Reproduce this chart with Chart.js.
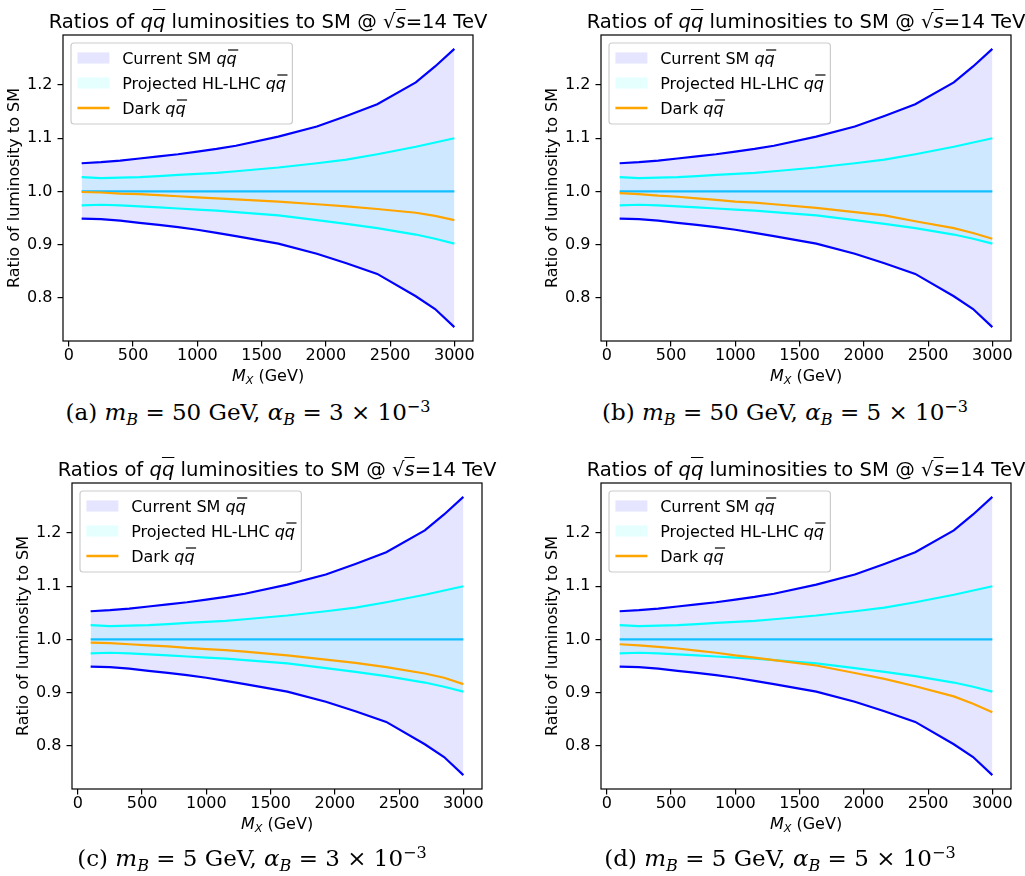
<!DOCTYPE html>
<html>
<head>
<meta charset="utf-8">
<script src="https://cdn.jsdelivr.net/npm/chart.js@4.4.0/dist/chart.umd.min.js"></script>
<style>
body { margin:0; background:#fff; width:1025px; height:876px; position:relative; overflow:hidden; font-family:'DejaVu Sans'; color:#000; }
.panel { position:absolute; width:480px; height:400px; }
.panel canvas { position:absolute; left:0; top:0; }
.ttl { position:absolute; left:18px; top:12px; width:500px; text-align:center; font-size:19.6px; line-height:1; white-space:nowrap; }
.xl { position:absolute; left:168px; top:368px; width:200px; text-align:center; font-size:16px; line-height:1; white-space:nowrap; }
.xl sub { font-size:0.7em; vertical-align:-0.3em; line-height:0; }
.ol { text-decoration:overline; }
.cap { position:absolute; width:500px; text-align:center; font-family:'DejaVu Serif'; font-size:23px; line-height:1; white-space:nowrap; }
.cap sub { font-size:0.7em; vertical-align:-0.3em; line-height:0; }
.cap sup { font-size:0.7em; vertical-align:0.5em; line-height:0; }
</style>
</head>
<body>
<div class="panel" style="left:0px;top:0px"><canvas id="ca" width="480" height="371"></canvas>
  <div class="ttl">Ratios of <i>q</i><i class="ol">q</i> luminosities to SM @ √<i class="ol">s</i>=14 TeV</div>
  <div class="xl"><i>M</i><sub><i>X</i></sub> (GeV)</div></div>
<div class="panel" style="left:538px;top:0px"><canvas id="cb" width="480" height="371"></canvas>
  <div class="ttl">Ratios of <i>q</i><i class="ol">q</i> luminosities to SM @ √<i class="ol">s</i>=14 TeV</div>
  <div class="xl"><i>M</i><sub><i>X</i></sub> (GeV)</div></div>
<div class="panel" style="left:9px;top:448px"><canvas id="cc" width="480" height="371"></canvas>
  <div class="ttl">Ratios of <i>q</i><i class="ol">q</i> luminosities to SM @ √<i class="ol">s</i>=14 TeV</div>
  <div class="xl"><i>M</i><sub><i>X</i></sub> (GeV)</div></div>
<div class="panel" style="left:538px;top:448px"><canvas id="cd" width="480" height="371"></canvas>
  <div class="ttl">Ratios of <i>q</i><i class="ol">q</i> luminosities to SM @ √<i class="ol">s</i>=14 TeV</div>
  <div class="xl"><i>M</i><sub><i>X</i></sub> (GeV)</div></div>

<div class="cap" style="left:-2px;top:401px">(a) <i>m</i><sub><i>B</i></sub> = 50 GeV, <i>α</i><sub><i>B</i></sub> = 3 × 10<sup>−3</sup></div>
<div class="cap" style="left:535px;top:401px">(b) <i>m</i><sub><i>B</i></sub> = 50 GeV, <i>α</i><sub><i>B</i></sub> = 5 × 10<sup>−3</sup></div>
<div class="cap" style="left:2px;top:847px">(c) <i>m</i><sub><i>B</i></sub> = 5 GeV, <i>α</i><sub><i>B</i></sub> = 3 × 10<sup>−3</sup></div>
<div class="cap" style="left:530px;top:847px">(d) <i>m</i><sub><i>B</i></sub> = 5 GeV, <i>α</i><sub><i>B</i></sub> = 5 × 10<sup>−3</sup></div>

<script>
// mass points (GeV)
const masses = [100, 250, 400, 550, 700, 850, 1000, 1150, 1300, 1630, 1930, 2160, 2400, 2700, 2850, 3000];

// current SM band
const smUpper = [1.053, 1.055, 1.058, 1.062, 1.066, 1.070, 1.075, 1.080, 1.086, 1.103, 1.122, 1.142, 1.164, 1.205, 1.235, 1.268];
const smLower = [0.949, 0.948, 0.945, 0.941, 0.937, 0.933, 0.928, 0.922, 0.916, 0.902, 0.883, 0.865, 0.845, 0.803, 0.779, 0.745];

// projected HL-LHC band
const hlUpper = [1.027, 1.025, 1.026, 1.027, 1.029, 1.031, 1.033, 1.035, 1.038, 1.045, 1.053, 1.060, 1.070, 1.084, 1.092, 1.100];
const hlLower = [0.974, 0.975, 0.974, 0.972, 0.970, 0.968, 0.966, 0.964, 0.961, 0.955, 0.946, 0.939, 0.931, 0.919, 0.911, 0.902];

const central = [1, 1, 1, 1, 1, 1, 1, 1, 1, 1, 1, 1, 1, 1, 1, 1];

// dark q-qbar ratio, one per panel
const darkA = [0.999, 0.998, 0.996, 0.995, 0.993, 0.991, 0.989, 0.987, 0.985, 0.981, 0.976, 0.972, 0.967, 0.960, 0.954, 0.946];
const darkB = [0.997, 0.995, 0.992, 0.990, 0.987, 0.984, 0.981, 0.979, 0.976, 0.969, 0.961, 0.955, 0.944, 0.931, 0.922, 0.911];
const darkC = [0.994, 0.993, 0.991, 0.989, 0.987, 0.984, 0.982, 0.980, 0.977, 0.970, 0.962, 0.956, 0.948, 0.936, 0.928, 0.916];
const darkD = [0.991, 0.989, 0.986, 0.983, 0.979, 0.975, 0.970, 0.966, 0.961, 0.951, 0.937, 0.926, 0.912, 0.893, 0.879, 0.863];

const xTicks = [0, 500, 1000, 1500, 2000, 2500, 3000];
const yTicks = [0.8, 0.9, 1.0, 1.1, 1.2];

const legendLabels = ['Current SM ', 'Projected HL-LHC ', 'Dark '];

Chart.defaults.font.family = 'DejaVu Sans';
Chart.defaults.font.size = 16;
Chart.defaults.color = '#000';

const pts = arr => arr.map((v, i) => ({x: masses[i], y: v}));

// matplotlib-style 5% margins
const xPad = 0.05 * (masses[masses.length - 1] - masses[0]);
const yMinData = Math.min(...smLower), yMaxData = Math.max(...smUpper);
const yPad = 0.05 * (yMaxData - yMinData);

const framePlugin = {
  id: 'frame',
  afterDatasetsDraw(chart) {
    const a = chart.chartArea, ctx = chart.ctx;
    ctx.save();
    ctx.strokeStyle = '#000';
    ctx.lineWidth = 1.2;
    ctx.strokeRect(a.left, a.top, a.right - a.left, a.bottom - a.top);
    ctx.restore();
  }
};

const legendPlugin = {
  id: 'mplLegend',
  afterDraw(chart) {
    const ctx = chart.ctx, a = chart.chartArea;
    const fs = 16;
    const x0 = a.left + 8, y0 = a.top + 8;
    ctx.save();
    ctx.font = fs + 'px "DejaVu Sans"';
    const plainW = legendLabels.map(t => ctx.measureText(t).width);
    ctx.font = 'italic ' + fs + 'px "DejaVu Sans"';
    const qW = ctx.measureText('q').width;
    const textX = x0 + 6.4 + 32 + 12.8;
    const w = textX - x0 + Math.max(...plainW) + 2 * qW + 6.4;
    const h = 81;
    // frame
    ctx.beginPath();
    ctx.roundRect(x0, y0, w, h, 3);
    ctx.fillStyle = 'rgba(255,255,255,0.8)';
    ctx.fill();
    ctx.strokeStyle = '#cccccc';
    ctx.lineWidth = 1.2;
    ctx.stroke();
    legendLabels.forEach((t, i) => {
      const cy = y0 + 15 + i * 25;
      const hx = x0 + 6.4;
      if (i === 0 || i === 1) {
        ctx.fillStyle = i === 0 ? 'rgba(0,0,255,0.1)' : 'rgba(0,255,255,0.1)';
        ctx.fillRect(hx, cy - 5.6, 32, 11.2);
      } else {
        ctx.strokeStyle = 'orange';
        ctx.lineWidth = 2.4;
        ctx.beginPath();
        ctx.moveTo(hx, cy);
        ctx.lineTo(hx + 32, cy);
        ctx.stroke();
      }
      const base = cy + 5.5;
      ctx.fillStyle = '#000';
      ctx.textBaseline = 'alphabetic';
      ctx.font = fs + 'px "DejaVu Sans"';
      ctx.fillText(t, textX, base);
      ctx.font = 'italic ' + fs + 'px "DejaVu Sans"';
      const qx = textX + plainW[i];
      ctx.fillText('q', qx, base);
      ctx.fillText('q', qx + qW, base);
      ctx.strokeStyle = '#000';
      ctx.lineWidth = 1.2;
      ctx.beginPath();
      ctx.moveTo(qx + qW + 1.5, base - 13.5);
      ctx.lineTo(qx + 2 * qW + 1.5, base - 13.5);
      ctx.stroke();
    });
    ctx.restore();
  }
};

function makeChart(id, dark) {
  const line = (data, color, extra) => Object.assign({
    data: pts(data), borderColor: color, borderWidth: 2.2, pointRadius: 0, tension: 0, fill: false
  }, extra || {});
  new Chart(document.getElementById(id), {
    type: 'line',
    data: {
      datasets: [
        line(dark, '#ffa500'),
        line(central, '#10c0ff'),
        line(hlUpper, '#00ffff', {fill: 3, backgroundColor: 'rgba(0,255,255,0.1)'}),
        line(hlLower, '#00ffff'),
        line(smUpper, '#0000ff', {fill: 5, backgroundColor: 'rgba(0,0,255,0.1)'}),
        line(smLower, '#0000ff')
      ]
    },
    options: {
      responsive: false,
      animation: false,
      layout: {padding: {top: 35, right: 7, bottom: 0, left: 0}},
      plugins: {
        legend: {display: false},
        tooltip: {enabled: false},
        filler: {drawTime: 'beforeDatasetsDraw'}
      },
      scales: {
        x: {
          type: 'linear',
          min: masses[0] - xPad,
          max: masses[masses.length - 1] + xPad,
          afterBuildTicks: s => { s.ticks = xTicks.map(v => ({value: v})); },
          afterFit: s => { s.height = 30; },
          border: {display: false},
          grid: {drawOnChartArea: false, drawTicks: true, tickLength: 5.5, color: '#000', lineWidth: 1.2},
          ticks: {padding: 0, autoSkip: false, maxRotation: 0, callback: v => String(v)}
        },
        y: {
          min: yMinData - yPad,
          max: yMaxData + yPad,
          afterBuildTicks: s => { s.ticks = yTicks.map(v => ({value: v})); },
          afterFit: s => { s.width = 63; },
          border: {display: false},
          grid: {drawOnChartArea: false, drawTicks: true, tickLength: 5.5, color: '#000', lineWidth: 1.2},
          ticks: {padding: 5, callback: v => v.toFixed(1)},
          title: {display: true, text: 'Ratio of luminosity to SM', padding: {top: 5, bottom: 0}}
        }
      }
    },
    plugins: [framePlugin, legendPlugin]
  });
}

makeChart('ca', darkA);
makeChart('cb', darkB);
makeChart('cc', darkC);
makeChart('cd', darkD);
</script>
</body>
</html>
